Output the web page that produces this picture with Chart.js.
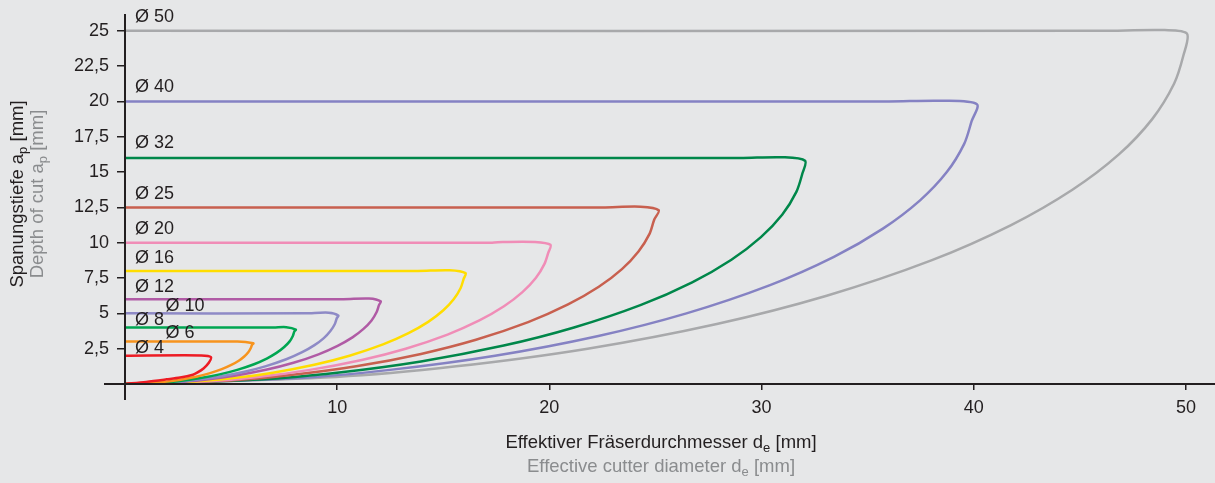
<!DOCTYPE html>
<html>
<head>
<meta charset="utf-8">
<script src="https://cdn.jsdelivr.net/npm/chart.js@4.4.0/dist/chart.umd.min.js"></script>
<style>
  html, body { margin: 0; padding: 0; background: #e6e7e8; }
</style>
</head>
<body>
<canvas id="graph" width="1215" height="483"></canvas>
<script>
// cutter diameters and their line colours
var diameters = [4, 6, 8, 10, 12, 16, 20, 25, 32, 40, 50];
var colors = ['#ed1c24', '#f7941e', '#00a651', '#8e8ac6', '#b05ba5', '#ffdd00',
              '#f08db7', '#c8604f', '#00874a', '#8582c3', '#a8a9ab'];

// each curve: [de, ap], top line first, then down to 0
var d4 = [[0,2],[3.6,2.02],[4.05,1.9],[3.95,1.5],[3.7,1.1],[3.4,0.8],[3.2,0.66],[2.6,0.46],[1.96,0.33],[1.0,0.15],[0,0]];
var d6 = [[0,3],[5.3,3],[6.05,2.88],[5.99,2.79],[5.93,2.55],[5.81,2.25],[5.62,1.95],[5.36,1.65],[5.01,1.35],[4.56,1.05],[3.97,0.75],[3.35,0.51],[2.62,0.3],[1.87,0.15],[1.19,0.06],[0,0]];
var d8 = [[0,4],[7.0,4],[7.6,4.02],[8.05,3.85],[7.98,3.72],[7.91,3.4],[7.75,3.0],[7.49,2.6],[7.14,2.2],[6.68,1.8],[6.08,1.4],[5.29,1.0],[4.46,0.68],[3.49,0.4],[2.5,0.2],[1.59,0.08],[0,0]];
var d10 = [[0,5],[8.5,5],[9.6,5.05],[10.05,4.85],[9.98,4.65],[9.89,4.25],[9.68,3.75],[9.37,3.25],[8.93,2.75],[8.35,2.25],[7.6,1.75],[6.61,1.25],[5.58,0.85],[4.36,0.5],[3.12,0.25],[1.99,0.1],[0,0]];
var d12 = [[0,6],[10.3,6],[11.5,6.05],[12.05,5.85],[11.97,5.58],[11.86,5.1],[11.62,4.5],[11.24,3.9],[10.72,3.3],[10.02,2.7],[9.12,2.1],[7.94,1.5],[6.69,1.02],[5.23,0.6],[3.75,0.3],[2.39,0.12],[0,0]];
var d16 = [[0,8],[13.8,8],[15.3,8.05],[16.05,7.85],[15.96,7.44],[15.82,6.8],[15.49,6.0],[14.99,5.2],[14.29,4.4],[13.36,3.6],[12.16,2.8],[10.58,2.0],[8.92,1.36],[6.97,0.8],[5.0,0.4],[3.18,0.16],[0,0]];
var d20 = [[0,10],[17.3,10],[17.8,10.05],[19.3,10.05],[20.05,9.85],[19.95,9.3],[19.77,8.5],[19.36,7.5],[18.73,6.5],[17.86,5.5],[16.7,4.5],[15.2,3.5],[13.23,2.5],[11.16,1.7],[8.72,1.0],[6.24,0.5],[3.98,0.2],[0,0]];
var d25 = [[0,12.5],[22.5,12.5],[24.3,12.55],[25.15,12.3],[24.94,11.63],[24.72,10.63],[24.2,9.38],[23.42,8.13],[22.33,6.88],[20.88,5.63],[19.0,4.38],[16.54,3.13],[13.95,2.13],[10.9,1.25],[7.81,0.63],[4.98,0.25],[0,0]];
var d32 = [[0,16],[29,16],[31,16.05],[32.05,15.8],[31.92,14.88],[31.64,13.6],[30.98,12.0],[29.97,10.4],[28.58,8.8],[26.73,7.2],[24.32,5.6],[21.16,4.0],[17.85,2.72],[13.95,1.6],[9.99,0.8],[6.37,0.32],[0,0]];
var d40 = [[0,20],[36,20],[38.5,20.05],[40.15,19.8],[39.9,18.6],[39.55,17.0],[38.73,15.0],[37.47,13.0],[35.72,11.0],[33.41,9.0],[30.4,7.0],[26.46,5.0],[22.31,3.4],[17.44,2.0],[12.49,1.0],[7.96,0.4],[0,0]];
var d50 = [[0,25],[46,25],[49,25.05],[50.05,24.8],[49.88,23.25],[49.44,21.25],[48.41,18.75],[46.84,16.25],[44.65,13.75],[41.76,11.25],[38.0,8.75],[33.07,6.25],[27.89,4.25],[21.8,2.5],[15.61,1.25],[9.95,0.5],[0,0]];
var curves = [d4, d6, d8, d10, d12, d16, d20, d25, d32, d40, d50];

// where the "Ø" labels sit (data units: left x, middle y)
var labelX = [0.47, 1.91, 0.47, 1.91, 0.47, 0.47, 0.47, 0.47, 0.47, 0.47, 0.47];
var labelY = [2.54, 3.6, 4.52, 5.51, 6.85, 8.9, 10.95, 13.42, 17.09, 21.05, 26.0];

var xTicks = [10, 20, 30, 40, 50];
var yTicks = [2.5, 5, 7.5, 10, 12.5, 15, 17.5, 20, 22.5, 25];

var FONT = 'Helvetica, Arial, "Liberation Sans", sans-serif';
var INK = '#231f20';
var GREY = '#8a8c8e';

// text with subscripts, centred on x
function richText(ctx, parts, x, y, color) {
  var big = '18.5px ' + FONT, small = '13px ' + FONT;
  var w = 0;
  parts.forEach(function(p) {
    ctx.font = p.sub ? small : big;
    w += ctx.measureText(p.t).width;
  });
  var cx = x - w / 2;
  ctx.fillStyle = color;
  ctx.textAlign = 'left';
  ctx.textBaseline = 'middle';
  parts.forEach(function(p) {
    ctx.font = p.sub ? small : big;
    ctx.fillText(p.t, cx, p.sub ? y + 5 : y);
    cx += ctx.measureText(p.t).width;
  });
}

var decor = {
  id: 'decor',
  beforeDraw: function(chart) {
    var ctx = chart.ctx;
    ctx.save();
    ctx.fillStyle = '#e6e7e8';
    ctx.fillRect(0, 0, chart.width, chart.height);
    ctx.restore();
  },
  afterDraw: function(chart) {
    var ctx = chart.ctx, xs = chart.scales.x, ys = chart.scales.y;
    var x0 = xs.getPixelForValue(0), y0 = ys.getPixelForValue(0);
    ctx.save();
    // axis lines
    ctx.strokeStyle = INK;
    ctx.lineWidth = 2;
    ctx.beginPath();
    ctx.moveTo(x0, 14); ctx.lineTo(x0, 400);
    ctx.moveTo(104, y0); ctx.lineTo(chart.width, y0);
    ctx.stroke();

    // diameter labels
    ctx.font = '18px ' + FONT;
    ctx.fillStyle = INK;
    ctx.textAlign = 'left';
    ctx.textBaseline = 'middle';
    diameters.forEach(function(d, i) {
      ctx.fillText('\u00d8 ' + d, xs.getPixelForValue(labelX[i]), ys.getPixelForValue(labelY[i]));
    });

    // axis titles
    richText(ctx, [{t: 'Effektiver Fr\u00e4serdurchmesser d'}, {t: 'e', sub: true}, {t: ' [mm]'}], 661, 443, INK);
    richText(ctx, [{t: 'Effective cutter diameter d'}, {t: 'e', sub: true}, {t: ' [mm]'}], 661, 467, GREY);
    ctx.save();
    ctx.translate(18, 194);
    ctx.rotate(-Math.PI / 2);
    richText(ctx, [{t: 'Spanungstiefe a'}, {t: 'p', sub: true}, {t: ' [mm]'}], 0, 0, INK);
    ctx.restore();
    ctx.save();
    ctx.translate(38, 194);
    ctx.rotate(-Math.PI / 2);
    richText(ctx, [{t: 'Depth of cut a'}, {t: 'p', sub: true}, {t: ' [mm]'}], 0, 0, GREY);
    ctx.restore();
    ctx.restore();
  }
};

var ctx = document.getElementById('graph').getContext('2d');
var chart = new Chart(ctx, {
  type: 'scatter',
  data: {
    datasets: curves.map(function(c, i) {
      return {
        label: '\u00d8 ' + diameters[i],
        data: c.map(function(p) { return {x: p[0], y: p[1]}; }),
        showLine: true,
        borderColor: colors[i],
        backgroundColor: colors[i],
        borderWidth: 2.5,
        pointRadius: 0,
        tension: 0.3,
        fill: false
      };
    })
  },
  options: {
    responsive: false,
    animation: false,
    layout: { padding: { top: 2, right: 0, left: 0, bottom: 0 } },
    plugins: {
      legend: { display: false },
      tooltip: { enabled: false }
    },
    scales: {
      x: {
        type: 'linear',
        min: 0,
        max: 51.37,
        afterFit: function(s) { s.height = 99; },
        afterBuildTicks: function(s) { s.ticks = xTicks.map(function(v) { return {value: v}; }); },
        border: { display: false },
        grid: { drawOnChartArea: false, tickLength: 6, color: INK, lineWidth: 1.5 },
        ticks: {
          color: INK,
          font: { size: 18, family: FONT },
          padding: 7,
          maxRotation: 0,
          autoSkip: false
        }
      },
      y: {
        type: 'linear',
        min: 0,
        max: 25.85,
        afterFit: function(s) { s.width = 125; },
        afterBuildTicks: function(s) { s.ticks = yTicks.map(function(v) { return {value: v}; }); },
        border: { display: false },
        grid: { drawOnChartArea: false, tickLength: 8, color: INK, lineWidth: 1.5 },
        ticks: {
          color: INK,
          font: { size: 18, family: FONT },
          padding: 8,
          autoSkip: false,
          callback: function(v) { return String(v).replace('.', ','); }
        }
      }
    }
  },
  plugins: [decor]
});
</script>
</body>
</html>
